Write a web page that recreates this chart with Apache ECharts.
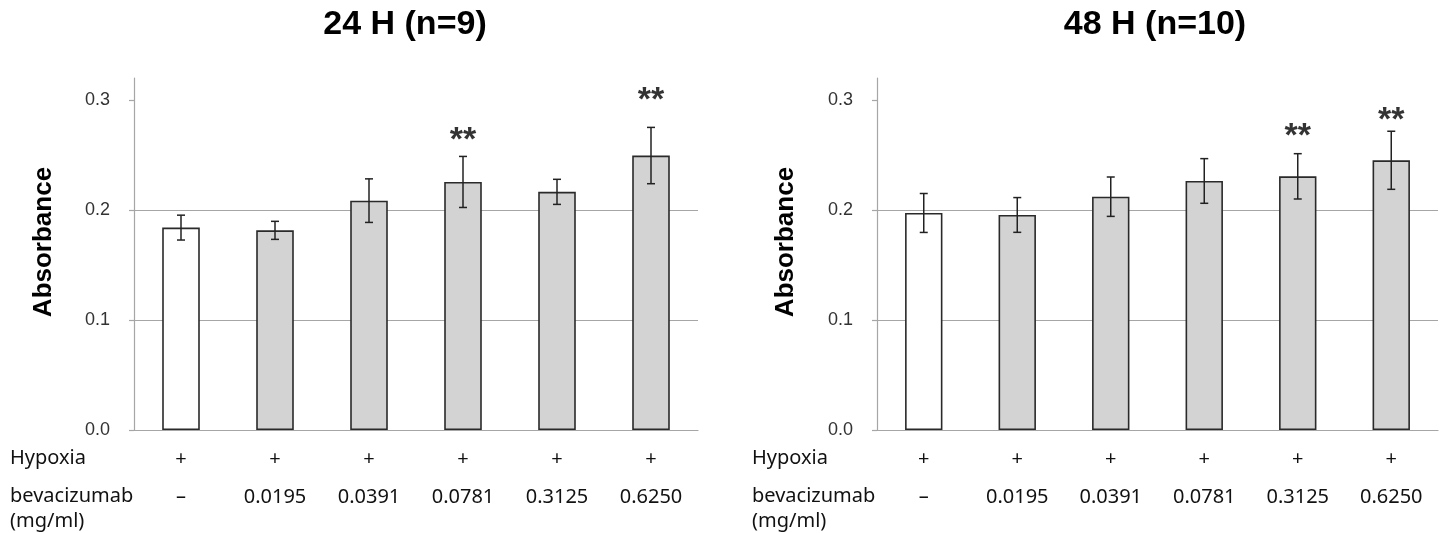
<!DOCTYPE html>
<html><head><meta charset="utf-8">
<script src="https://cdn.jsdelivr.net/npm/echarts@6/dist/echarts.min.js"></script>
<style>html,body{margin:0;padding:0;background:#fff}#c{width:1447px;height:533px}</style>
</head><body><div id="c"></div>
<script>
// ---- data ----
var titles = ['24 H (n=9)', '48 H (n=10)'];
var hypoxia = ['+', '+', '+', '+', '+', '+'];
var doses = ['–', '0.0195', '0.0391', '0.0781', '0.3125', '0.6250'];
var mean24 = [0.184, 0.1815, 0.2085, 0.2255, 0.2165, 0.2495];
var err24  = [0.0113, 0.0082, 0.0198, 0.0232, 0.0114, 0.0256];
var sig24  = [null, null, null, 0.271, null, 0.308];
var mean48 = [0.1973, 0.1955, 0.2121, 0.2264, 0.2306, 0.2452];
var err48  = [0.0177, 0.0158, 0.0179, 0.0203, 0.0206, 0.0264];
var sig48  = [null, null, null, null, 0.2745, 0.2891];
var yTicks = [0, 0.1, 0.2, 0.3];
var yMax = 0.32;
var rowLabels = ['Hypoxia', 'bevacizumab', '(mg/ml)'];

var chart = echarts.init(document.getElementById('c'));
var FONT = '"Liberation Sans", Arial, sans-serif';
var LFONT = '"Noto Sans", "Open Sans", sans-serif';
var LSIZE = 20;
var grids = [
  {left: 134, right: 749, top: 78, bottom: 103},
  {left: 877, right: 9, top: 78, bottom: 103}
];
var panels = [
  {mean: mean24, err: err24, sig: sig24},
  {mean: mean48, err: err48, sig: sig48}
];
var xAxes = [], yAxes = [], series = [];
panels.forEach(function (p, k) {
  var cats = doses.map(function (d, i) { return hypoxia[i] + '\n' + d; });
  xAxes.push({
    type: 'category', gridIndex: k, data: cats,
    axisLine: {lineStyle: {color: '#a6a6a6', width: 1.2}},
    axisTick: {length: 7, lineStyle: {color: '#a6a6a6', width: 1.2}},
    axisLabel: {
      interval: 0, hideOverlap: false,
      margin: 10, color: '#111', fontFamily: LFONT, fontSize: LSIZE,
      formatter: function (v) {
        var parts = v.split('\n');
        return '{p|' + parts[0] + '}\n' + (parts[1] === '–' ? '{d|' + parts[1] + '}' : '{v|' + parts[1] + '}');
      },
      rich: {
        p: {fontFamily: LFONT, fontSize: LSIZE, lineHeight: 38, color: '#111'},
        v: {fontFamily: LFONT, fontSize: LSIZE, lineHeight: 38, color: '#111'},
        d: {fontFamily: LFONT, fontSize: LSIZE, lineHeight: 30, padding: [8, 0, 0, 0], color: '#111'}
      }
    }
  });
  yAxes.push({
    type: 'value', gridIndex: k, min: 0, max: yMax, interval: 0.1,
    axisLine: {show: true, lineStyle: {color: '#a6a6a6', width: 1.2}},
    axisTick: {show: true, length: 5, customValues: yTicks, lineStyle: {color: '#a6a6a6', width: 1.2}},
    axisLabel: {customValues: yTicks, margin: 24, color: '#333', fontFamily: FONT, fontSize: 18,
      formatter: function (v) { return v.toFixed(1); }},
    splitLine: {show: true, showMaxLine: false, showMinLine: false, lineStyle: {color: '#a6a6a6', width: 1.2}}
  });
  series.push({
    type: 'bar', xAxisIndex: k, yAxisIndex: k, barWidth: '40%',
    data: p.mean.map(function (v, i) {
      return {value: v, itemStyle: {color: i === 0 ? '#ffffff' : '#d3d3d3'}};
    }),
    itemStyle: {borderColor: '#2a2a2a', borderWidth: 1.6},
    z: 2
  });
  series.push({
    type: 'custom', xAxisIndex: k, yAxisIndex: k, z: 5,
    data: p.mean.map(function (v, i) { return [i, v - p.err[i], v + p.err[i]]; }),
    renderItem: function (params, api) {
      var lo = api.coord([api.value(0), api.value(1)]);
      var hi = api.coord([api.value(0), api.value(2)]);
      var h = 4;
      var st = {stroke: '#222', lineWidth: 1.5};
      return {type: 'group', children: [
        {type: 'line', shape: {x1: hi[0], y1: hi[1], x2: lo[0], y2: lo[1]}, style: st},
        {type: 'line', shape: {x1: hi[0] - h, y1: hi[1], x2: hi[0] + h, y2: hi[1]}, style: st},
        {type: 'line', shape: {x1: lo[0] - h, y1: lo[1], x2: lo[0] + h, y2: lo[1]}, style: st}
      ]};
    }
  });
  series.push({
    type: 'scatter', xAxisIndex: k, yAxisIndex: k, symbolSize: 0, z: 6,
    data: p.sig.map(function (v, i) { return v == null ? null : [i, v]; }).filter(function (d) { return d; }),
    label: {show: true, position: 'inside', formatter: '**', offset: [0, 9],
      fontFamily: FONT, fontWeight: 'bold', fontSize: 34, color: '#000',
      textBorderWidth: 0, textBorderColor: 'transparent'},
    emphasis: {disabled: true}
  });
});

var graphics = [];
var tx = [405, 1155];
var yn = [44, 786];
var rx = [10, 752];
titles.forEach(function (t, k) {
  graphics.push({type: 'text', x: tx[k], y: 25, style: {text: t, fontFamily: FONT, fontWeight: 'bold', fontSize: 34,
    fill: '#000', textAlign: 'center', textVerticalAlign: 'middle'}});
  graphics.push({type: 'text', x: yn[k], y: 242, rotation: Math.PI / 2, style: {text: 'Absorbance', fontFamily: FONT,
    fontWeight: 'bold', fontSize: 26, fill: '#000', textAlign: 'center', textVerticalAlign: 'middle'}});
  graphics.push({type: 'text', x: rx[k], y: 458, style: {text: rowLabels[0], fontFamily: LFONT, fontSize: LSIZE,
    fill: '#111', textAlign: 'left', textVerticalAlign: 'middle'}});
  graphics.push({type: 'text', x: rx[k], y: 496, style: {text: rowLabels[1], fontFamily: LFONT, fontSize: LSIZE,
    fill: '#111', textAlign: 'left', textVerticalAlign: 'middle'}});
  graphics.push({type: 'text', x: rx[k], y: 521, style: {text: rowLabels[2], fontFamily: LFONT, fontSize: LSIZE,
    fill: '#111', textAlign: 'left', textVerticalAlign: 'middle'}});
});

chart.setOption({
  animation: false,
  backgroundColor: '#fff',
  grid: grids,
  xAxis: xAxes,
  yAxis: yAxes,
  series: series,
  graphic: graphics
});
</script></body></html>
